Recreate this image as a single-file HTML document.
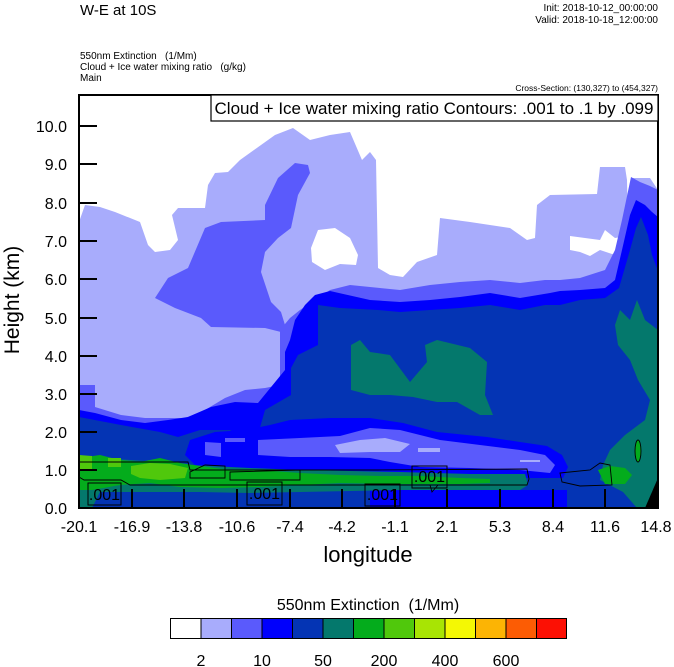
<!DOCTYPE html>
<html><head><meta charset="utf-8">
<style>
html,body{margin:0;padding:0;background:#fff;}
svg{display:block;font-family:"Liberation Sans",Arial,sans-serif;}
text{white-space:pre;}
</style></head>
<body>
<svg width="674" height="667" viewBox="0 0 674 667" xmlns="http://www.w3.org/2000/svg" xml:space="preserve">
<defs><clipPath id="pc"><rect x="79" y="95" width="579" height="413"/></clipPath></defs>
<rect width="674" height="667" fill="#fff"/>
<g clip-path="url(#pc)">
<rect x="79" y="95" width="579" height="413" fill="#fff"/>
<polygon fill="#a8acfc" points="79,222 85,205 100,207 115,212 140,222 148,245 155,252 170,250 178,240 172,215 178,208 205,208 208,185 215,173 228,172 240,160 275,135 293,128 310,140 330,135 350,132 362,160 370,152 376,160 378,268 390,275 403,277 417,262 437,255 440,218 470,222 510,228 527,240 535,238 537,205 550,195 597,194 600,167 625,167 627,180 628,235 633,178 650,178 658,190 658,508 79,508"/>
<polygon fill="#fff" points="570,236 600,240 605,230 615,238 627,236 627,252 612,254 600,250 590,256 580,252 570,250"/>
<polygon fill="#fff" points="311,248 318,230 335,228 350,238 358,255 356,265 340,264 325,270 312,262"/>
<polygon fill="#5a5afc" points="155,298 168,278 188,268 205,228 221,222 265,220 265,205 278,178 295,163 308,165 310,173 298,195 291,228 278,238 265,252 261,272 271,302 281,312 285,325 281,332 265,328 211,327 201,318 175,308"/>
<polygon fill="#5a5afc" points="79,385 95,385 95,407 121,415 145,418 185,418 205,410 225,398 245,390 265,388 280,385 280,330 290,318 300,310 315,300 330,290 350,285 380,288 400,290 430,285 460,282 490,280 520,283 545,280 560,280 580,278 605,270 615,250 622,220 631,177 640,182 650,186 658,190 658,508 79,508"/>
<polygon fill="#0000fc" points="79,410 95,413 121,420 145,423 168,420 188,417 211,407 235,402 258,403 285,370 285,352 290,340 295,320 305,305 315,295 330,291 370,300 400,302 430,300 460,297 490,293 520,298 550,293 560,291 580,290 605,288 615,280 622,250 630,215 636,200 645,205 652,212 658,217 658,508 79,508"/>
<polygon fill="#0434b4" points="79,417 121,425 160,432 178,437 200,430 230,430 255,445 265,410 291,395 291,368 298,355 318,345 318,305 340,308 378,310 400,312 430,310 460,308 490,305 520,310 545,305 560,305 580,300 605,298 619,288 630,250 636,228 641,217 648,235 652,255 658,271 658,508 79,508"/>
<polygon fill="#0000fc" points="190,440 215,432 245,430 270,425 290,420 330,418 370,418 403,423 437,432 487,437 520,442 547,446 562,455 568,467 563,478 540,478 500,478 460,477 420,475 380,475 340,473 300,472 260,471 220,470 195,465 185,455"/>
<polygon fill="#5a5afc" points="258,440 300,438 340,436 370,428 400,430 440,440 480,445 520,450 545,455 555,465 550,473 520,470 470,468 420,467 390,462 370,458 330,457 290,457 258,455"/>
<polygon fill="#5a5afc" points="205,442 221,443 221,457 205,455"/>
<polygon fill="#5a5afc" points="225,438 245,438 245,442 225,442"/>
<polygon fill="#a8acfc" points="335,445 360,440 385,438 410,444 400,452 370,452 340,453"/>
<polygon fill="#a8acfc" points="418,448 440,448 440,452 418,452"/>
<polygon fill="#a8acfc" points="520,460 540,460 540,462 520,462"/>
<polygon fill="#04786c" points="351,345 360,340 370,352 390,355 410,382 427,362 425,345 437,340 470,348 487,362 485,395 493,415 480,415 457,402 437,402 413,397 390,395 370,395 351,390"/>
<polygon fill="#04786c" points="615,325 620,310 630,320 637,300 645,320 658,330 658,508 637,508 623,492 600,480 603,465 610,450 625,435 645,420 650,400 638,380 630,360 618,345"/>
<rect x="370" y="490" width="197" height="18" fill="#0000fc"/>
<polygon fill="#04786c" points="79,455 100,458 130,460 160,462 190,465 250,468 300,470 400,472 470,474 525,474 528,485 520,490 400,490 300,492 250,493 200,492 150,492 100,492 92,508 79,508"/>
<polygon fill="#04ac1c" points="79,458 100,455 120,460 140,462 160,458 180,463 200,466 230,470 260,470 300,473 340,475 380,476 420,476 460,478 490,479 490,483 460,484 400,484 340,483 300,485 260,487 220,488 180,487 150,483 120,485 92,490 79,490"/>
<polygon fill="#50c80c" points="79,455 92,456 92,470 79,470"/>
<polygon fill="#50c80c" points="108,458 121,458 121,467 108,467"/>
<polygon fill="#50c80c" points="131,466 150,463 170,464 188,468 185,478 160,480 140,478 131,474"/>
<polygon fill="#04ac1c" points="598,470 610,466 625,468 632,475 625,484 605,484"/>
<ellipse cx="638" cy="451" rx="3" ry="11" fill="#04ac1c"/>
<polygon fill="#000" points="645,508 658,478 658,508"/>
<g fill="none" stroke="#000" stroke-width="0.9">
<path d="M79,462 L188,462 L190,470 L378,470 L527,469 L529,479 L527,485 L378,485 L130,485 L121,480 L84,480 L79,477"/>
<path d="M190,472 L205,465 L225,466 L225,478 L190,478 Z"/>
<path d="M230,472 L300,470 L300,480 L230,480 Z"/>
<path d="M560,473 L590,470 L600,463 L610,465 L612,485 L580,486 L562,482 Z"/>
<path d="M430,485 L432,492 L438,485"/>
<ellipse cx="638" cy="451" rx="3" ry="11"/>
</g>
</g>
<g font-size="16" fill="#000">
<rect x="88" y="483" width="33" height="22" fill="none" stroke="#000" stroke-width="1"/>
<text x="104.5" y="500" text-anchor="middle">.001</text>
<rect x="247" y="482" width="35" height="23" fill="none" stroke="#000"/>
<text x="264.5" y="499" text-anchor="middle">.001</text>
<rect x="365" y="484" width="35" height="22" fill="none" stroke="#000"/>
<text x="382.5" y="500" text-anchor="middle">.001</text>
<rect x="412" y="466" width="35" height="22" fill="none" stroke="#000"/>
<text x="429.5" y="482" text-anchor="middle">.001</text>
</g>
<rect x="79" y="95" width="579" height="413" fill="none" stroke="#000" stroke-width="2"/>
<g stroke="#000" stroke-width="2">
<line x1="79" y1="470" x2="97" y2="470"/><line x1="79" y1="432" x2="97" y2="432"/>
<line x1="79" y1="394" x2="97" y2="394"/><line x1="79" y1="356" x2="97" y2="356"/>
<line x1="79" y1="318" x2="97" y2="318"/><line x1="79" y1="279" x2="97" y2="279"/>
<line x1="79" y1="241" x2="97" y2="241"/><line x1="79" y1="203" x2="97" y2="203"/>
<line x1="79" y1="164" x2="97" y2="164"/><line x1="79" y1="126" x2="97" y2="126"/>
<line x1="132" y1="508" x2="132" y2="489"/><line x1="184" y1="508" x2="184" y2="489"/>
<line x1="237" y1="508" x2="237" y2="489"/><line x1="290" y1="508" x2="290" y2="489"/>
<line x1="342" y1="508" x2="342" y2="489"/><line x1="395" y1="508" x2="395" y2="489"/>
<line x1="447" y1="508" x2="447" y2="489"/><line x1="500" y1="508" x2="500" y2="489"/>
<line x1="553" y1="508" x2="553" y2="489"/><line x1="605" y1="508" x2="605" y2="489"/>
</g>
<rect x="211" y="95" width="447" height="26" fill="#fff" stroke="#000" stroke-width="1.2"/>
<text x="434" y="114" font-size="17" text-anchor="middle">Cloud + Ice water mixing ratio Contours: .001 to .1 by .099</text>
<g font-size="16" text-anchor="end">
<text x="67" y="514">0.0</text><text x="67" y="476">1.0</text><text x="67" y="438">2.0</text>
<text x="67" y="400">3.0</text><text x="67" y="362">4.0</text><text x="67" y="324">5.0</text>
<text x="67" y="285">6.0</text><text x="67" y="247">7.0</text><text x="67" y="209">8.0</text>
<text x="67" y="170">9.0</text><text x="67" y="132">10.0</text>
</g>
<g font-size="16" text-anchor="middle">
<text x="79" y="532">-20.1</text><text x="132" y="532">-16.9</text><text x="184" y="532">-13.8</text>
<text x="237" y="532">-10.6</text><text x="290" y="532">-7.4</text><text x="342" y="532">-4.2</text>
<text x="395" y="532">-1.1</text><text x="447" y="532">2.1</text><text x="500" y="532">5.3</text>
<text x="553" y="532">8.4</text><text x="605" y="532">11.6</text><text x="656" y="532">14.8</text>
</g>
<text x="368" y="562" font-size="22" text-anchor="middle">longitude</text>
<text transform="translate(19,300) rotate(-90)" font-size="21" text-anchor="middle">Height (km)</text>
<text x="80" y="15" font-size="15">W-E at 10S</text>
<text x="658" y="11" font-size="10" text-anchor="end">Init: 2018-10-12_00:00:00</text>
<text x="658" y="23" font-size="10" text-anchor="end">Valid: 2018-10-18_12:00:00</text>
<text x="80" y="59" font-size="10">550nm Extinction   (1/Mm)</text>
<text x="80" y="70" font-size="10">Cloud + Ice water mixing ratio   (g/kg)</text>
<text x="80" y="81" font-size="10">Main</text>
<text x="658" y="91" font-size="8.5" text-anchor="end">Cross-Section: (130,327) to (454,327)</text>
<text x="368" y="610" font-size="16" text-anchor="middle">550nm Extinction  (1/Mm)</text>
<g stroke="#000" stroke-width="1">
<rect x="170.5" y="618.5" width="30.5" height="20" fill="#fff"/>
<rect x="201" y="618.5" width="30.5" height="20" fill="#a8acfc"/>
<rect x="231.5" y="618.5" width="30.5" height="20" fill="#5a5afc"/>
<rect x="262" y="618.5" width="30.5" height="20" fill="#0000fc"/>
<rect x="292.5" y="618.5" width="30.5" height="20" fill="#0434b4"/>
<rect x="323" y="618.5" width="30.5" height="20" fill="#04786c"/>
<rect x="353.5" y="618.5" width="30.5" height="20" fill="#04ac1c"/>
<rect x="384" y="618.5" width="30.5" height="20" fill="#50c80c"/>
<rect x="414.5" y="618.5" width="30.5" height="20" fill="#a8e404"/>
<rect x="445" y="618.5" width="30.5" height="20" fill="#f4f804"/>
<rect x="475.5" y="618.5" width="30.5" height="20" fill="#fcb404"/>
<rect x="506" y="618.5" width="30.5" height="20" fill="#fc5c04"/>
<rect x="536.5" y="618.5" width="30" height="20" fill="#fc1004"/>
</g>
<g font-size="16" text-anchor="middle">
<text x="201" y="666">2</text><text x="262" y="666">10</text><text x="323" y="666">50</text>
<text x="384" y="666">200</text><text x="445" y="666">400</text><text x="506" y="666">600</text>
</g>
</svg>
</body></html>
